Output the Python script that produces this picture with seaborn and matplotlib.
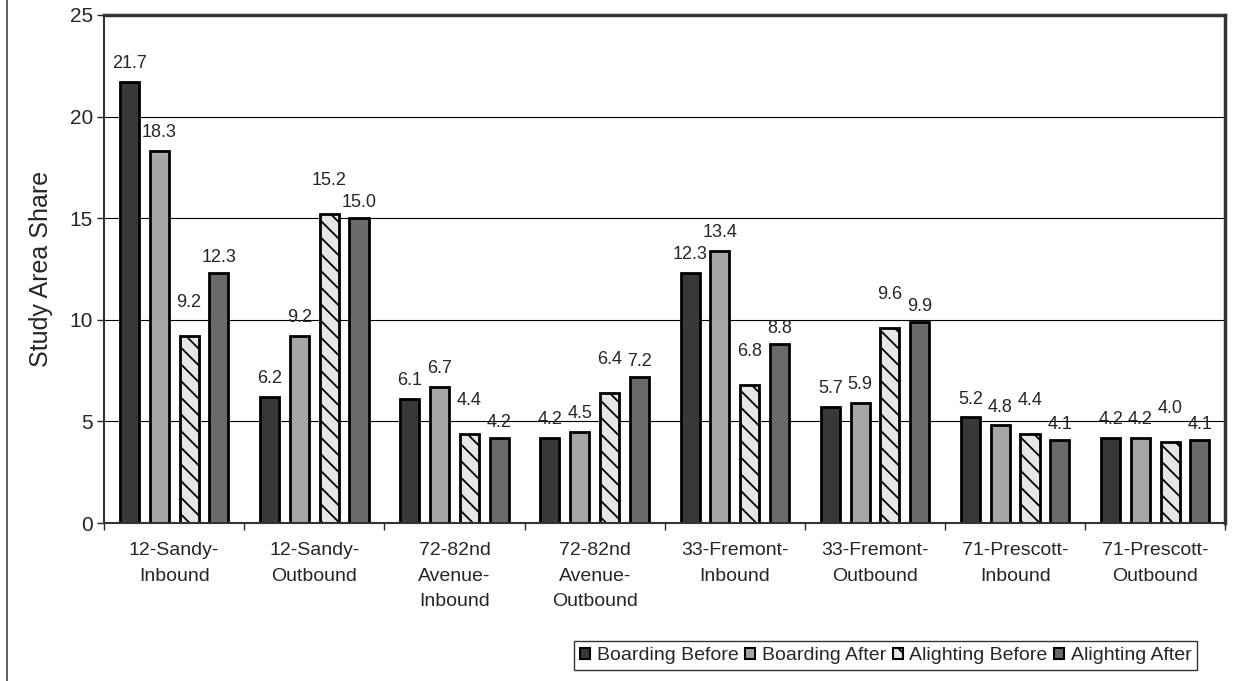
import pandas as pd
import matplotlib
matplotlib.use("Agg")
import matplotlib.pyplot as plt
import seaborn as sns
from matplotlib.patches import Patch
from matplotlib.lines import Line2D

routes = ["12-Sandy-\nInbound", "12-Sandy-\nOutbound", "72-82nd\nAvenue-\nInbound",
          "72-82nd\nAvenue-\nOutbound", "33-Fremont-\nInbound", "33-Fremont-\nOutbound",
          "71-Prescott-\nInbound", "71-Prescott-\nOutbound"]
series = ["Boarding Before", "Boarding After", "Alighting Before", "Alighting After"]

boarding_before = [21.7, 6.2, 6.1, 4.2, 12.3, 5.7, 5.2, 4.2]
boarding_after = [18.3, 9.2, 6.7, 4.5, 13.4, 5.9, 4.8, 4.2]
alighting_before = [9.2, 15.2, 4.4, 6.4, 6.8, 9.6, 4.4, 4.0]
alighting_after = [12.3, 15.0, 4.2, 7.2, 8.8, 9.9, 4.1, 4.1]

values = [boarding_before, boarding_after, alighting_before, alighting_after]
rows = []
for s, vals in zip(series, values):
    for r, v in zip(routes, vals):
        rows.append({"route": r, "series": s, "share": v})
df = pd.DataFrame(rows)

colors = ["#383838", "#a6a6a6", "#e6e6e6", "#6a6a6a"]
hatches = ["", "", "\\\\", ""]
label_pad = [7, 7, 18, 5]

sns.set_style("white")
plt.rcParams["font.family"] = ["Liberation Sans", "DejaVu Sans"]
plt.rcParams["hatch.color"] = "#5a5a5a"
plt.rcParams["hatch.linewidth"] = 1.3

fig = plt.figure(figsize=(12.39, 6.81), dpi=100)
ax = fig.add_axes([0.084, 0.232, 0.905, 0.746])

sns.barplot(data=df, x="route", y="share", hue="series", palette=colors,
            edgecolor="black", linewidth=2, width=0.85, gap=0.36, ax=ax, saturation=1)
ax.legend_.remove()

for cont, h, pad in zip(ax.containers, hatches, label_pad):
    for p in cont.patches:
        p.set_hatch(h)
    ax.bar_label(cont, fmt="%.1f", padding=pad, fontsize=13)

ax.set_ylim(0, 25)
ax.set_yticks(range(0, 26, 5))
ax.set_xlim(-0.5, 7.5)
ax.yaxis.grid(True, color="black", linewidth=0.8)
ax.set_axisbelow(True)
ax.set_xlabel("")
ax.set_ylabel("Study Area Share", fontsize=18, labelpad=12)
ax.tick_params(axis="y", labelsize=15, length=5, width=1, left=True, pad=3)
ax.tick_params(axis="x", which="major", length=0, labelsize=14, pad=14)
for lab in ax.get_xticklabels():
    lab.set_linespacing(1.65)
ax.set_xticks([i - 0.5 for i in range(9)], minor=True)
ax.tick_params(axis="x", which="minor", length=5, bottom=True, width=1)

for side in ["left", "bottom", "top", "right"]:
    ax.spines[side].set_visible(True)
    ax.spines[side].set_color("#333333")
    ax.spines[side].set_linewidth(1.5)
ax.spines["right"].set_linewidth(2.5)
ax.spines["top"].set_linewidth(2.5)

handles = [Patch(facecolor=c, edgecolor="black", hatch=h, linewidth=1.5)
           for c, h in zip(colors, hatches)]
fig.legend(handles, series, loc="center", bbox_to_anchor=(0.715, 0.037), ncol=4,
           fontsize=14, frameon=True, fancybox=False, edgecolor="black",
           handlelength=0.5, handleheight=0.5, handletextpad=0.35, columnspacing=0.35,
           borderpad=0.3, borderaxespad=0)

fig.add_artist(Line2D([0.006, 0.006], [0, 1], color="#444444", linewidth=1.2))

fig.savefig("out.png", dpi=100)
